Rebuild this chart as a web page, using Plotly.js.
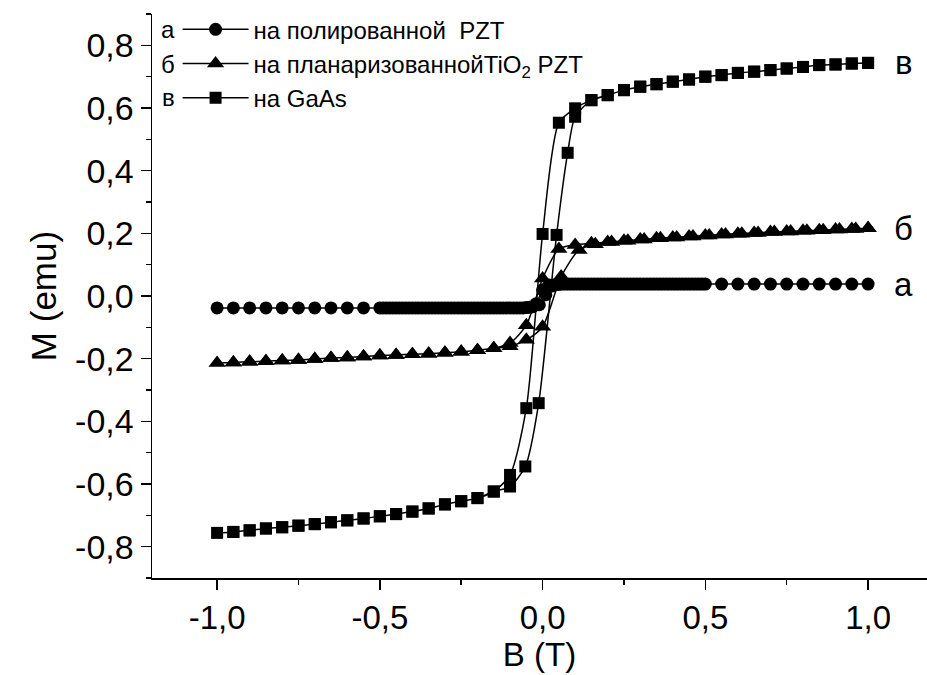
<!DOCTYPE html>
<html>
<head>
<meta charset="utf-8">
<script src="https://cdn.plot.ly/plotly-3.0.1.min.js"></script>
<style>html,body{margin:0;padding:0;background:#fff;overflow:hidden}</style>
</head>
<body>
<div id="chart" style="width:927px;height:675px"></div>
<script>
// Series а: на полированной PZT (circles) — descending then ascending branch
const aX = [1.0,0.95,0.9,0.85,0.8,0.75,0.7,0.65,0.6,0.55,
  0.5,0.48,0.46,0.44,0.42,0.4,0.38,0.36,0.34,0.32,0.3,0.28,0.26,0.24,0.22,0.2,0.18,0.16,0.14,0.12,0.1,0.08,0.06,0.04,0.02,0.0,
  -0.02,-0.04,-0.06,-0.08,-0.1,-0.12,-0.14,-0.16,-0.18,-0.2,-0.22,-0.24,-0.26,-0.28,-0.3,-0.32,-0.34,-0.36,-0.38,-0.4,-0.42,-0.44,-0.46,-0.48,-0.5,
  -0.55,-0.6,-0.65,-0.7,-0.75,-0.8,-0.85,-0.9,-0.95,-1.0,
  -0.49,-0.47,-0.45,-0.43,-0.41,-0.39,-0.37,-0.35,-0.33,-0.31,-0.29,-0.27,-0.25,-0.23,-0.21,-0.19,-0.17,-0.15,-0.13,-0.11,-0.09,-0.07,-0.05,-0.03,-0.01,
  0.01,0.03,0.05,0.07,0.09,0.11,0.13,0.15,0.17,0.19,0.21,0.23,0.25,0.27,0.29,0.31,0.33,0.35,0.37,0.39,0.41,0.43,0.45,0.47,0.49];
const aY = [0.038,0.038,0.038,0.038,0.038,0.038,0.038,0.038,0.038,0.038,
  0.038,0.038,0.038,0.038,0.038,0.038,0.038,0.038,0.038,0.038,0.038,0.038,0.038,0.038,0.038,0.038,0.038,0.038,0.038,0.038,0.038,0.038,0.038,0.037,0.035,0.020,
  -0.025,-0.036,-0.038,-0.038,-0.038,-0.038,-0.038,-0.038,-0.038,-0.038,-0.038,-0.038,-0.038,-0.038,-0.038,-0.038,-0.038,-0.038,-0.038,-0.038,-0.038,-0.038,-0.038,-0.038,-0.038,
  -0.038,-0.038,-0.038,-0.038,-0.038,-0.038,-0.038,-0.038,-0.038,-0.038,
  -0.038,-0.038,-0.038,-0.038,-0.038,-0.038,-0.038,-0.038,-0.038,-0.038,-0.038,-0.038,-0.038,-0.038,-0.038,-0.038,-0.038,-0.038,-0.038,-0.038,-0.038,-0.038,-0.037,-0.034,-0.028,
  0.004,0.032,0.037,0.038,0.038,0.038,0.038,0.038,0.038,0.038,0.038,0.038,0.038,0.038,0.038,0.038,0.038,0.038,0.038,0.038,0.038,0.038,0.038,0.038,0.038];

// Series б: на планаризованной TiO2 PZT (triangles)
const bX = [1.0,0.95,0.9,0.85,0.8,0.75,0.7,0.65,0.6,0.55,0.5,0.45,0.4,0.35,0.3,0.25,0.2,0.15,0.1,0.05,0.0,-0.05,-0.1,
  -0.15,-0.2,-0.25,-0.3,-0.35,-0.4,-0.45,-0.5,-0.55,-0.6,-0.65,-0.7,-0.75,-0.8,-0.85,-0.9,-0.95,-1.0,
  -0.95,-0.9,-0.85,-0.8,-0.75,-0.7,-0.65,-0.6,-0.55,-0.5,-0.45,-0.4,-0.35,-0.3,-0.25,-0.2,-0.15,-0.1,-0.05,0.0,0.057,0.112,
  0.162,0.212,0.262,0.312,0.362,0.412,0.462,0.512,0.562,0.612,0.662,0.712,0.762,0.812,0.862,0.912,0.962,1.0];
const bY = [0.216,0.214,0.212,0.210,0.208,0.206,0.204,0.201,0.199,0.196,0.193,0.190,0.187,0.184,0.180,0.176,0.172,0.168,0.163,0.150,0.056,-0.093,-0.150,
  -0.167,-0.173,-0.178,-0.181,-0.184,-0.186,-0.188,-0.190,-0.193,-0.196,-0.198,-0.201,-0.204,-0.206,-0.208,-0.210,-0.212,-0.214,
  -0.212,-0.210,-0.208,-0.206,-0.204,-0.201,-0.198,-0.196,-0.193,-0.190,-0.188,-0.186,-0.184,-0.181,-0.178,-0.173,-0.167,-0.160,-0.140,-0.098,0.062,0.147,
  0.165,0.172,0.176,0.180,0.184,0.187,0.190,0.193,0.196,0.199,0.201,0.204,0.206,0.208,0.210,0.212,0.214,0.216];

// Series в: на GaAs (squares)
const cX = [1.0,0.95,0.9,0.85,0.8,0.75,0.7,0.65,0.6,0.55,0.5,0.45,0.4,0.35,0.3,0.25,0.2,0.15,0.1,0.05,0.0,-0.05,-0.1,
  -0.15,-0.2,-0.25,-0.3,-0.35,-0.4,-0.45,-0.5,-0.55,-0.6,-0.65,-0.7,-0.75,-0.8,-0.85,-0.9,-0.95,-1.0,
  -0.95,-0.9,-0.85,-0.8,-0.75,-0.7,-0.65,-0.6,-0.55,-0.5,-0.45,-0.4,-0.35,-0.3,-0.25,-0.2,-0.15,-0.1,-0.053,-0.012,0.043,0.077,0.1,
  0.15,0.2,0.25,0.3,0.35,0.4,0.45,0.5,0.55,0.6,0.65,0.7,0.75,0.8,0.85,0.9,0.95,1.0];
const cY = [0.744,0.742,0.739,0.737,0.731,0.726,0.721,0.716,0.712,0.705,0.700,0.691,0.684,0.676,0.668,0.657,0.641,0.625,0.599,0.553,0.198,-0.358,-0.571,
  -0.624,-0.645,-0.655,-0.665,-0.678,-0.688,-0.696,-0.703,-0.710,-0.716,-0.722,-0.728,-0.733,-0.738,-0.742,-0.748,-0.753,-0.756,
  -0.753,-0.748,-0.742,-0.738,-0.733,-0.728,-0.722,-0.716,-0.710,-0.703,-0.696,-0.688,-0.678,-0.665,-0.655,-0.645,-0.624,-0.608,-0.544,-0.342,0.195,0.457,0.572,
  0.625,0.641,0.657,0.668,0.676,0.684,0.691,0.700,0.705,0.712,0.716,0.721,0.726,0.731,0.737,0.739,0.742,0.744];

const seriesNames = ['на полированной\u00A0\u00A0PZT', 'на планаризованнойTiO<sub>2</sub> PZT', 'на GaAs'];
const seriesLetters = ['а', 'б', 'в'];
const xTicks = [-1.0, -0.5, 0.0, 0.5, 1.0];
const xTickText = ['-1,0', '-0,5', '0,0', '0,5', '1,0'];
const yTicks = [-0.8, -0.6, -0.4, -0.2, 0.0, 0.2, 0.4, 0.6, 0.8];
const yTickText = ['-0,8', '-0,6', '-0,4', '-0,2', '0,0', '0,2', '0,4', '0,6', '0,8'];

const lineStyle = {color: '#000', width: 1.5, shape: 'spline', smoothing: 0.7};
const traces = [
  {x: aX, y: aY, name: seriesNames[0], mode: 'lines+markers', line: lineStyle,
   marker: {symbol: 'circle', size: 13, color: '#000'}},
  {x: bX, y: bY, name: seriesNames[1], mode: 'lines+markers', line: lineStyle,
   marker: {symbol: 'triangle-up', size: 15, color: '#000'}},
  {x: cX, y: cY, name: seriesNames[2], mode: 'lines+markers', line: lineStyle,
   marker: {symbol: 'square', size: 12, color: '#000'}}
];

const font = 'Liberation Sans, Arial, sans-serif';

const layout = {
  width: 927, height: 675,
  margin: {l: 152, r: 0, t: 14, b: 97},
  paper_bgcolor: '#fff', plot_bgcolor: '#fff',
  showlegend: true,
  legend: {x: 0.033, y: 1.012, xanchor: 'left', yanchor: 'top', bgcolor: 'rgba(0,0,0,0)',
           font: {family: font, size: 24, color: '#000'}, itemwidth: 66, tracegroupgap: 0},
  xaxis: {range: [-1.2, 1.181], showgrid: false, zeroline: false, showline: true, linecolor: '#000', linewidth: 1.5,
          ticks: 'outside', ticklen: 10, tickwidth: 1.5, tickcolor: '#000',
          tickvals: xTicks, ticktext: xTickText,
          minor: {dtick: 0.25, ticks: 'outside', ticklen: 5, tickwidth: 1.5, tickcolor: '#000'},
          tickfont: {family: font, size: 33, color: '#000'},
          title: {text: 'B (T)', font: {family: font, size: 33, color: '#000'}, standoff: 6}},
  yaxis: {range: [-0.9, 0.9], showgrid: false, zeroline: false, showline: true, linecolor: '#000', linewidth: 1.5,
          ticks: 'outside', ticklen: 10, tickwidth: 1.5, tickcolor: '#000',
          tickvals: yTicks, ticktext: yTickText,
          minor: {dtick: 0.1, ticks: 'outside', ticklen: 5, tickwidth: 1.5, tickcolor: '#000'},
          tickfont: {family: font, size: 34, color: '#000'},
          title: {text: 'M (emu)', font: {family: font, size: 35, color: '#000'}, standoff: 8}},
  annotations: [
    {x: 1.11, y: cY[0], xref: 'x', yref: 'y', text: seriesLetters[2], showarrow: false, font: {family: font, size: 33, color: '#000'}},
    {x: 1.11, y: bY[0], xref: 'x', yref: 'y', text: seriesLetters[1], showarrow: false, font: {family: font, size: 33, color: '#000'}},
    {x: 1.11, y: aY[0], xref: 'x', yref: 'y', text: seriesLetters[0], showarrow: false, font: {family: font, size: 33, color: '#000'}}
  ]
};

Plotly.newPlot('chart', traces, layout, {staticPlot: true, displayModeBar: false}).then(function (gd) {
  // put the letters а, б, в before each legend item
  const items = gd.querySelectorAll('.legend .traces');
  const cb = gd.getBoundingClientRect();
  const ann = [];
  items.forEach(function (it, i) {
    const r = it.getBoundingClientRect();
    ann.push({xref: 'paper', yref: 'paper', x: (r.left - cb.left - 152 - 1) / 775,
              y: 1 - (r.top + r.height / 2 - cb.top - 14) / 564, xanchor: 'right', yanchor: 'middle',
              text: seriesLetters[i], showarrow: false, font: {family: font, size: 24, color: '#000'}});
  });
  return Plotly.relayout(gd, {annotations: layout.annotations.concat(ann)});
});
</script>
</body>
</html>
